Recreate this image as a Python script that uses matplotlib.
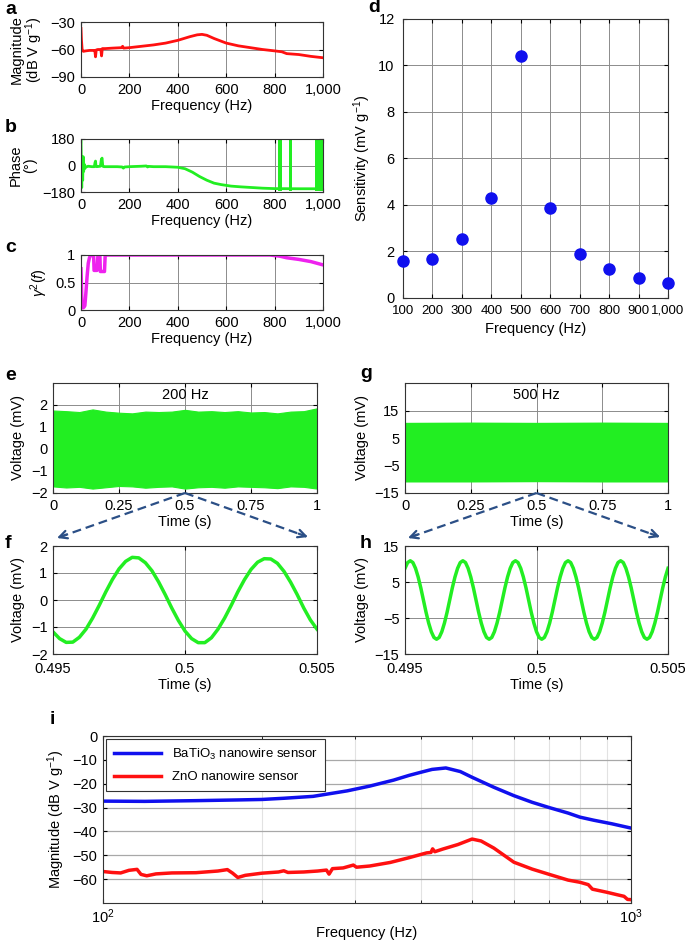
import numpy as np
import matplotlib
matplotlib.use('Agg')
import matplotlib.pyplot as plt
from matplotlib.ticker import FuncFormatter, NullFormatter

# ---- panel a: magnitude (ZnO sensor, linear freq) ----
a_freq = [0, 2, 5, 10, 20, 35, 50, 57, 60, 63, 70, 82, 85, 88, 100, 130, 168, 172, 176, 200,
          250, 300, 350, 400, 450, 480, 500, 520, 550, 600, 650, 700, 750, 800, 830, 850,
          900, 950, 1000]
a_mag = [-37, -50, -61, -62, -61.5, -61, -61, -61, -68, -60.5, -60, -60, -67, -59, -59, -58.5,
         -58, -56.5, -58.5, -58, -56.5, -55, -53, -50, -46, -44, -43.5, -44.5, -48, -53, -56,
         -58, -60, -61.5, -62.5, -64.5, -65.5, -67.5, -69]

# ---- panel b: phase ----
b_freq = [0, 1, 3, 5, 7, 9, 11, 13, 16, 20, 30, 45, 55, 58, 60, 62, 65, 80, 84, 87, 90, 95,
          120, 150, 170, 175, 180, 200, 250, 270, 275, 280, 300, 350, 400, 430, 460, 490, 520,
          550, 580, 620, 660, 700, 750, 800, 900, 966]
b_phase = [180, 60, -150, 20, -100, 60, -40, 10, -20, -10, -5, -8, -8, 20, 30, -5, -8, -5, 40,
           50, -5, -8, -8, -8, -10, -18, -10, -8, -5, -3, -10, -6, -8, -8, -12, -22, -45, -75,
           -100, -120, -130, -140, -145, -149, -154, -157, -158, -158]
b_wrap_lo = [814, 860, 966]
b_wrap_hi = [832, 873, 1000]

# ---- panel c: coherence ----
c_freq = [0, 2, 4, 8, 12, 16, 20, 25, 30, 35, 40, 52, 54, 58, 66, 70, 74, 78, 80, 90, 97, 100,
          200, 400, 600, 780, 820, 850, 900, 950, 1000]
c_coh = [0.75, 0.45, 0.05, 0.04, 0.05, 0.08, 0.3, 0.6, 0.85, 0.95, 1.0, 1.0, 0.72, 0.72, 0.72,
         1.0, 1.0, 1.0, 0.7, 0.7, 0.7, 1.0, 1.0, 1.0, 1.0, 1.0, 0.98, 0.95, 0.92, 0.88, 0.82]

# ---- panel d: sensitivity ----
d_freq = [100, 200, 300, 400, 500, 600, 700, 800, 900, 1000]
d_sens = [1.6, 1.68, 2.52, 4.32, 10.4, 3.85, 1.9, 1.25, 0.88, 0.65]

# ---- panels e, g: signal envelopes over 1 s ----
e_t = [0, 0.05, 0.1, 0.15, 0.2, 0.25, 0.3, 0.35, 0.4, 0.45, 0.5, 0.55, 0.6, 0.65, 0.7, 0.75,
       0.8, 0.85, 0.9, 0.95, 1.0]
e_upper = [1.75, 1.72, 1.68, 1.8, 1.7, 1.65, 1.62, 1.7, 1.68, 1.7, 1.78, 1.7, 1.72, 1.68, 1.72,
           1.66, 1.68, 1.62, 1.7, 1.72, 1.85]
e_lower = [-1.7, -1.75, -1.72, -1.8, -1.74, -1.68, -1.7, -1.76, -1.72, -1.7, -1.8, -1.74, -1.72,
           -1.76, -1.7, -1.72, -1.74, -1.78, -1.7, -1.72, -1.8]
g_t = [0, 0.25, 0.5, 0.75, 1.0]
g_upper = [10.7, 10.8, 10.7, 10.8, 10.7]
g_lower = [-11.0, -11.0, -10.9, -11.0, -11.0]

# ---- panels f, h: zoomed signals 0.495-0.505 s ----
f_volt = [-1.18, -1.43, -1.57, -1.56, -1.38, -1.08, -0.67, -0.20, 0.30, 0.76, 1.15, 1.43, 1.58,
          1.56, 1.38, 1.08, 0.67, 0.20, -0.30, -0.76, -1.15, -1.43, -1.58, -1.58, -1.40, -1.08,
          -0.67, -0.20, 0.30, 0.75, 1.13, 1.40, 1.53, 1.52, 1.36, 1.06, 0.66, 0.20, -0.30, -0.74,
          -1.08]
h_volt = [8.8, 10.4, 10.9, 10.4, 8.8, 6.4, 3.4, 0.0, -3.4, -6.4, -8.8, -10.4, -10.9, -10.4,
          -8.8, -6.4, -3.4, 0.0, 3.4, 6.4,
          8.8, 10.4, 10.9, 10.4, 8.8, 6.4, 3.4, 0.0, -3.4, -6.4, -8.8, -10.4, -10.9, -10.4,
          -8.8, -6.4, -3.4, 0.0, 3.4, 6.4,
          8.8, 10.4, 10.9, 10.4, 8.8, 6.4, 3.4, 0.0, -3.4, -6.4, -8.8, -10.4, -10.9, -10.4,
          -8.8, -6.4, -3.4, 0.0, 3.4, 6.4,
          8.8, 10.4, 10.9, 10.4, 8.8, 6.4, 3.4, 0.0, -3.4, -6.4, -8.8, -10.4, -10.9, -10.4,
          -8.8, -6.4, -3.4, 0.0, 3.4, 6.4,
          8.8, 10.4, 10.9, 10.4, 8.8, 6.4, 3.4, 0.0, -3.4, -6.4, -8.8, -10.4, -10.9, -10.4,
          -8.8, -6.4, -3.4, 0.0, 3.4, 6.4, 8.8]

# ---- panel i: magnitude, log freq ----
i_freq_bt = [100, 120, 150, 180, 200, 220, 250, 290, 320, 355, 380, 400, 420, 446, 475, 500,
             550, 600, 650, 700, 760, 800, 850, 920, 1000]
i_mag_bt = [-27.3, -27.4, -27.1, -26.8, -26.6, -26.1, -25.3, -23.0, -21.0, -18.5, -16.5, -15.2,
            -14.0, -13.4, -14.9, -17.3, -21.5, -25.0, -27.8, -30.0, -32.3, -34.0, -35.3, -36.8,
            -38.6]
i_freq_zn = [100, 104, 108, 112, 116, 118, 121, 126, 135, 150, 165, 172, 176, 180, 186, 200,
             215, 220, 224, 240, 255, 265, 268, 272, 285, 298, 302, 320, 350, 380, 410, 418, 421,
             425, 440, 470, 500, 520, 550, 600, 650, 700, 760, 800, 830, 845, 870, 900, 940, 970,
             985, 1000]
i_mag_zn = [-56.8, -57.2, -57.4, -56.3, -55.9, -58.0, -58.6, -57.8, -57.4, -57.3, -56.6, -56.0,
            -57.5, -59.3, -58.4, -57.5, -57.0, -56.5, -57.2, -57.0, -56.6, -56.2, -57.9, -55.6,
            -55.3, -54.1, -55.0, -54.5, -53.0, -51.0, -49.0, -48.8, -47.3, -48.5, -47.4, -45.5,
            -43.2, -44.0, -47.0, -52.9, -55.8, -58.0, -60.4, -61.3, -62.3, -64.2, -64.8, -65.5,
            -66.5, -67.2, -68.5, -68.6]
i_labels = ['BaTiO$_3$ nanowire sensor', 'ZnO nanowire sensor']

plt.rcParams.update({
    'font.family': ['Liberation Sans', 'DejaVu Sans'],
    'font.size': 10.5,
    'mathtext.fontset': 'custom',
    'mathtext.rm': 'Liberation Sans',
    'mathtext.it': 'Liberation Sans:italic',
    'xtick.direction': 'in', 'ytick.direction': 'in',
    'xtick.top': True, 'ytick.right': True,
    'xtick.major.size': 3, 'ytick.major.size': 3,
    'xtick.minor.size': 2, 'ytick.minor.size': 2,
    'xtick.major.pad': 4, 'ytick.major.pad': 4,
    'axes.linewidth': 0.8,
    'axes.edgecolor': '#333333',
    'grid.color': '#8c8c8c', 'grid.linewidth': 0.7,
})

W, H = 685, 944
fig = plt.figure(figsize=(W / 100, H / 100), dpi=100)


def box(x0, y0, x1, y1):
    ax = fig.add_axes([x0 / W, 1 - y1 / H, (x1 - x0) / W, (y1 - y0) / H])
    ax.set_axisbelow(True)
    ax.grid(True)
    return ax


comma = FuncFormatter(lambda v, p: f'{v:,.0f}'.replace('-', '\u2212'))
RED, GREEN, MAG, BLUE = '#ff1010', '#22ee22', '#ee22ee', '#1010ee'

# a
ax = box(81, 22, 323, 77)
ax.plot(a_freq, a_mag, color=RED, lw=2)
ax.set_xlim(0, 1000); ax.set_ylim(-90, -30)
ax.set_xticks(range(0, 1001, 200)); ax.xaxis.set_major_formatter(comma)
ax.set_yticks([-90, -60, -30]); ax.yaxis.set_major_formatter(comma)
ax.set_xlabel('Frequency (Hz)', labelpad=2)
ax.set_ylabel('Magnitude\n(dB V g$^{-1}$)', linespacing=1.0)

# b
ax = box(81, 139, 323, 192)
ax.plot(b_freq, b_phase, color=GREEN, lw=2)
for lo, hi in zip(b_wrap_lo, b_wrap_hi):
    ax.fill_between([lo, hi], -170, 180, color=GREEN, lw=0)
ax.set_xlim(0, 1000); ax.set_ylim(-180, 180)
ax.set_xticks(range(0, 1001, 200)); ax.xaxis.set_major_formatter(comma)
ax.set_yticks([-180, 0, 180]); ax.yaxis.set_major_formatter(comma)
ax.set_xlabel('Frequency (Hz)', labelpad=2)
ax.set_ylabel('Phase\n(°)', linespacing=1.0)

# c
ax = box(81, 255, 323, 310)
ax.plot(c_freq, c_coh, color=MAG, lw=2.5)
ax.set_xlim(0, 1000); ax.set_ylim(0, 1)
ax.set_xticks(range(0, 1001, 200)); ax.xaxis.set_major_formatter(comma)
ax.set_yticks([0, 0.5, 1]); ax.set_yticklabels(['0', '0.5', '1'])
ax.set_xlabel('Frequency (Hz)', labelpad=2)
ax.set_ylabel('$\\gamma^2(f)$')

# d
ax = box(403, 19, 668, 298)
ax.plot(d_freq, d_sens, 'o', color=BLUE, ms=8, clip_on=False, zorder=3)
ax.set_xlim(100, 1000); ax.set_ylim(0, 12)
ax.set_xticks(d_freq); ax.xaxis.set_major_formatter(comma)
ax.set_yticks(range(0, 13, 2))
ax.tick_params(axis='x', labelsize=9.5, pad=5)
ax.tick_params(axis='y', pad=6)
ax.set_xlabel('Frequency (Hz)')
ax.set_ylabel('Sensitivity (mV g$^{-1}$)')

# e
ax_e = box(53, 383, 317, 493)
ax_e.fill_between(e_t, e_lower, e_upper, color=GREEN, lw=0.8, edgecolor=GREEN)
ax_e.set_xlim(0, 1); ax_e.set_ylim(-2, 3)
ax_e.set_xticks([0, 0.25, 0.5, 0.75, 1]); ax_e.set_xticklabels(['0', '0.25', '0.5', '0.75', '1'])
ax_e.set_yticks([-2, -1, 0, 1, 2]); ax_e.yaxis.set_major_formatter(comma)
ax_e.set_xlabel('Time (s)', labelpad=2)
ax_e.set_ylabel('Voltage (mV)')
ax_e.text(0.5, 0.89, '200 Hz', transform=ax_e.transAxes, ha='center', va='center')

# g
ax_g = box(405, 383, 668, 493)
ax_g.fill_between(g_t, g_lower, g_upper, color=GREEN, lw=0)
ax_g.set_xlim(0, 1); ax_g.set_ylim(-15, 25)
ax_g.set_xticks([0, 0.25, 0.5, 0.75, 1]); ax_g.set_xticklabels(['0', '0.25', '0.5', '0.75', '1'])
ax_g.set_yticks([-15, -5, 5, 15]); ax_g.yaxis.set_major_formatter(comma)
ax_g.set_xlabel('Time (s)', labelpad=2)
ax_g.set_ylabel('Voltage (mV)')
ax_g.text(0.5, 0.89, '500 Hz', transform=ax_g.transAxes, ha='center', va='center')

# f
ax_f = box(53, 546, 317, 654)
ax_f.plot(np.linspace(0.495, 0.505, len(f_volt)), f_volt, color=GREEN, lw=2.5)
ax_f.set_xlim(0.495, 0.505); ax_f.set_ylim(-2, 2)
ax_f.set_xticks([0.495, 0.5, 0.505]); ax_f.set_xticklabels(['0.495', '0.5', '0.505'])
ax_f.set_yticks([-2, -1, 0, 1, 2]); ax_f.yaxis.set_major_formatter(comma)
ax_f.tick_params(axis='x', pad=6)
ax_f.set_xlabel('Time (s)', labelpad=1)
ax_f.set_ylabel('Voltage (mV)')

# h
ax_h = box(405, 546, 668, 654)
ax_h.plot(np.linspace(0.495, 0.505, len(h_volt)), h_volt, color=GREEN, lw=2.5)
ax_h.set_xlim(0.495, 0.505); ax_h.set_ylim(-15, 15)
ax_h.set_xticks([0.495, 0.5, 0.505]); ax_h.set_xticklabels(['0.495', '0.5', '0.505'])
ax_h.set_yticks([-15, -5, 5, 15]); ax_h.yaxis.set_major_formatter(comma)
ax_h.tick_params(axis='x', pad=6)
ax_h.set_xlabel('Time (s)', labelpad=1)
ax_h.set_ylabel('Voltage (mV)')

# i
ax = box(103, 736, 631, 903)
ax.grid(False)
ax.plot(i_freq_bt, i_mag_bt, color=BLUE, lw=2.5, label=i_labels[0])
ax.plot(i_freq_zn, i_mag_zn, color=RED, lw=2.5, label=i_labels[1])
ax.set_xscale('log')
ax.set_xlim(100, 1000); ax.set_ylim(-70, 0)
ax.set_yticks(range(-60, 1, 10)); ax.yaxis.set_major_formatter(comma)
ax.xaxis.set_minor_formatter(NullFormatter())
ax.tick_params(axis='x', which='major', pad=3)
ax.grid(True, axis='y', which='major', color='#a8a8a8', lw=0.9)
ax.grid(True, axis='x', which='minor', color='#e2e2e2', lw=0.8)
ax.set_xlabel('Frequency (Hz)')
ax.xaxis.set_label_coords(0.5, -0.135)
ax.set_ylabel('Magnitude (dB V g$^{-1}$)')
leg = ax.legend(loc='upper left', fancybox=False, edgecolor='#333333', framealpha=1,
                fontsize=9.5, handlelength=3.6, labelspacing=0.7, borderaxespad=0.2,
                borderpad=0.6)
leg.get_frame().set_linewidth(0.8)

# panel letters
for letter, x, y in [('a', 5, 9), ('b', 5, 128), ('c', 5, 247), ('d', 368, 8), ('e', 5, 375),
                     ('g', 360, 373), ('f', 5, 543), ('h', 360, 543), ('i', 50, 720)]:
    fig.text(x / W, 1 - y / H, letter, fontsize=14, fontweight='bold', va='center', ha='left')

# dashed zoom arrows
fig.canvas.draw()
ARROW = '#2b4f86'


def zoom_arrow(src_ax, dst_ax, tip):
    p0 = np.array(src_ax.transAxes.transform((0.5, 0.0)))
    p1 = np.array(dst_ax.transAxes.transform(tip))
    d = (p0 - p1) / np.hypot(*(p0 - p1))
    fig.add_artist(matplotlib.lines.Line2D([p0[0] / W, (p1[0] + d[0] * 2) / W],
                                           [p0[1] / H, (p1[1] + d[1] * 2) / H],
                                           transform=fig.transFigure, color=ARROW, lw=1.6,
                                           ls=(0, (4, 2.2))))
    back = p1 + d * 10
    fig.add_artist(matplotlib.patches.FancyArrowPatch((back[0] / W, back[1] / H),
                                                      (p1[0] / W, p1[1] / H),
                                                      transform=fig.transFigure,
                                                      arrowstyle='->', mutation_scale=14,
                                                      color=ARROW, lw=1.6, shrinkA=0,
                                                      shrinkB=0))


zoom_arrow(ax_e, ax_f, (0.015, 1.074))
zoom_arrow(ax_e, ax_f, (0.966, 1.083))
zoom_arrow(ax_g, ax_h, (0.011, 1.074))
zoom_arrow(ax_g, ax_h, (0.970, 1.083))

fig.savefig('out.png', dpi=100)
